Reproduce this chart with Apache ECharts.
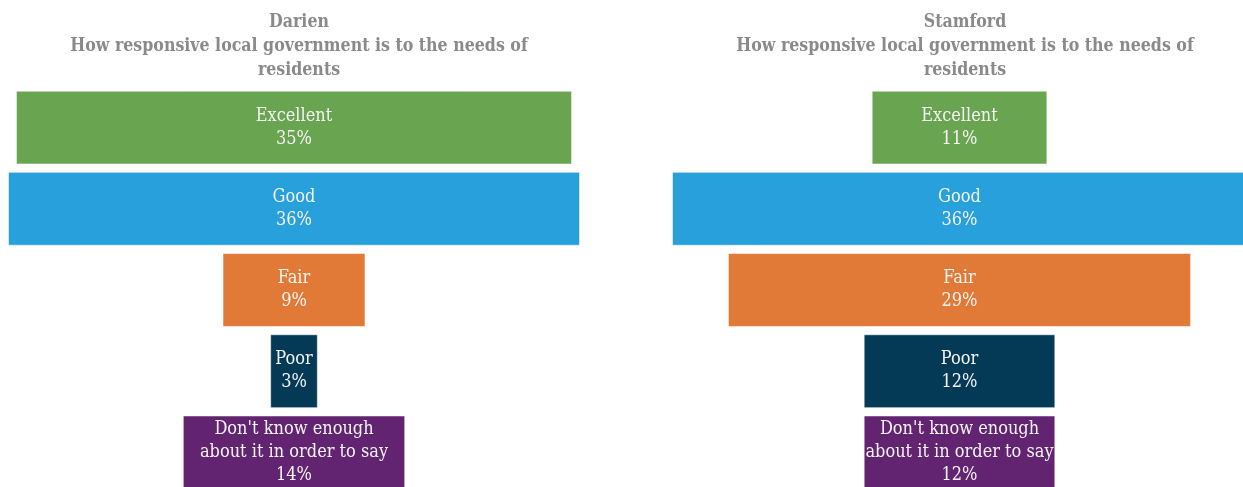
<!DOCTYPE html>
<html>
<head>
<meta charset="utf-8">
<script src="https://cdn.jsdelivr.net/npm/echarts@6/dist/echarts.min.js"></script>
<style>
  html, body { margin: 0; padding: 0; background: #ffffff; }
  #chart { width: 1243px; height: 487px; }
</style>
</head>
<body>
<div id="chart"></div>
<script>
// Survey question shown in both panels
const question = 'How responsive local government is to the needs of\nresidents';

// Response categories (top to bottom) and bar colours
const categories = ['Excellent', 'Good', 'Fair', 'Poor', "Don't know enough about it in order to say"];
const barColors = ['#69a450', '#27a0db', '#e07a36', '#043a56', '#622471'];

// Text shown inside each bar, per panel (line breaks follow the bar width)
const darienLabels = ['Excellent', 'Good', 'Fair', 'Poor', "Don't know enough\nabout it in order to say"];
const stamfordLabels = ['Excellent', 'Good', 'Fair', 'Poor', "Don't know enough\nabout it in order to say"];

// Share of residents per answer (%)
const darienValues = [35, 36, 9, 3, 14];
const stamfordValues = [11, 36, 29, 12, 12];

// Full extent of the value axis; bars are centred within it
const axisMax = 36;

const FONT = '"DejaVu Serif Condensed", "Liberation Serif", serif';

function panelTitle(town, centerX) {
  return {
    text: town + '\n' + question,
    left: centerX,
    top: 5,
    textAlign: 'center',
    textStyle: {
      fontFamily: FONT,
      fontWeight: 'bold',
      fontSize: 17.6,
      lineHeight: 24,
      color: '#8a8a8a'
    }
  };
}

function panelSeries(values, labels, axisIndex) {
  // Transparent spacer pushes each bar so it sits centred on the axis
  const spacer = {
    type: 'bar',
    stack: 'panel' + axisIndex,
    xAxisIndex: axisIndex,
    yAxisIndex: axisIndex,
    silent: true,
    itemStyle: { color: 'transparent' },
    barCategoryGap: '9%',
    data: values.map(v => (axisMax - v) / 2)
  };
  const bars = {
    type: 'bar',
    stack: 'panel' + axisIndex,
    xAxisIndex: axisIndex,
    yAxisIndex: axisIndex,
    barCategoryGap: '9%',
    data: values.map((v, i) => ({
      value: v,
      itemStyle: { color: barColors[i], borderColor: 'rgba(255,255,255,0.55)', borderWidth: 1 }
    })),
    label: {
      show: true,
      position: 'inside',
      formatter: p => labels[p.dataIndex] + '\n' + p.value + '%',
      color: '#f4f4f4',
      fontFamily: FONT,
      fontSize: 18,
      lineHeight: 23
    }
  };
  return [spacer, bars];
}

const chart = echarts.init(document.getElementById('chart'), null, { renderer: 'canvas' });

const hiddenValueAxis = i => ({
  type: 'value', gridIndex: i, min: 0, max: axisMax,
  show: false
});
const hiddenCategoryAxis = i => ({
  type: 'category', gridIndex: i, data: categories, inverse: true,
  show: false
});

chart.setOption({
  animation: false,
  title: [panelTitle('Darien', 294), panelTitle('Stamford', 960)],
  grid: [
    { left: 8, top: 87, width: 572, height: 406, outerBoundsMode: 'none' },
    { left: 672, top: 87, width: 575, height: 406, outerBoundsMode: 'none' }
  ],
  xAxis: [hiddenValueAxis(0), hiddenValueAxis(1)],
  yAxis: [hiddenCategoryAxis(0), hiddenCategoryAxis(1)],
  series: [
    ...panelSeries(darienValues, darienLabels, 0),
    ...panelSeries(stamfordValues, stamfordLabels, 1)
  ]
});
</script>
</body>
</html>
